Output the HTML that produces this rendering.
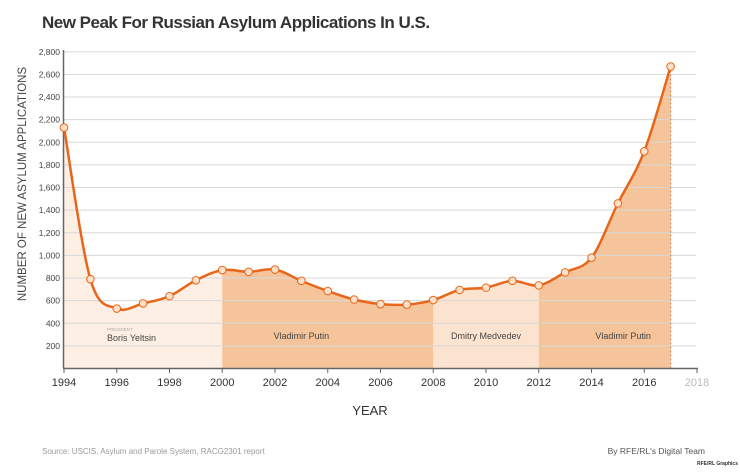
<!DOCTYPE html><html><head><style>body{margin:0;background:#fff;font-family:"Liberation Sans",sans-serif}</style></head><body>
<svg id="s" width="740" height="467" xmlns="http://www.w3.org/2000/svg" font-family="Liberation Sans, sans-serif">
<text x="42" y="28" font-size="17" font-weight="bold" fill="#333" letter-spacing="-0.5">New Peak For Russian Asylum Applications In U.S.</text>
<g id="g"></g>
<text x="26" y="184" font-size="11.5" fill="#444" transform="rotate(-90 26 184)" text-anchor="middle">NUMBER OF NEW ASYLUM APPLICATIONS</text>
<text x="370" y="415" font-size="13" fill="#333" text-anchor="middle">YEAR</text>
<text x="42" y="454" font-size="8" fill="#999">Source: USCIS, Asylum and Parole System, RACG2301 report</text>
<text x="705" y="454" font-size="8.5" fill="#555" text-anchor="end">By RFE/RL's Digital Team</text>
<text x="738" y="465" font-size="5" fill="#333" text-anchor="end" font-weight="bold">RFE/RL Graphics</text>
</svg>
<script>
var X=y=>64+(y-1994)*26.375, Y=v=>368.5-v*0.1131;
var d=[2130,790,530,575,640,780,870,855,875,775,685,610,570,565,605,695,715,775,735,850,980,1460,1920,2670];
var P=d.map((v,i)=>[X(1994+i),Y(v)]);
function curve(){var s="M"+P[0];for(var i=0;i<P.length-1;i++){var p0=P[i-1]||P[i],p1=P[i],p2=P[i+1],p3=P[i+2]||p2,t=6;
s+=" C"+(p1[0]+(p2[0]-p0[0])/t)+","+(p1[1]+(p2[1]-p0[1])/t)+" "+(p2[0]-(p3[0]-p1[0])/t)+","+(p2[1]-(p3[1]-p1[1])/t)+" "+p2;}return s;}
var c=curve(),h="";
h+='<defs><clipPath id="cp"><path d="'+c+' L'+X(2017)+',368 L64,368Z"/></clipPath></defs>';
h+='<g clip-path="url(#cp)"><rect x="64" y="0" width="'+(X(2000)-64)+'" height="368" fill="#fdefe3"/><rect x="'+X(2000)+'" y="0" width="'+(X(2008)-X(2000))+'" height="368" fill="#f5c49b"/><rect x="'+X(2008)+'" y="0" width="'+(X(2012)-X(2008))+'" height="368" fill="#fce3cf"/><rect x="'+X(2012)+'" y="0" width="'+(X(2017)-X(2012))+'" height="368" fill="#f5c49b"/></g>';
for(var v=200;v<=2800;v+=200){h+='<line x1="64" x2="696" y1="'+Y(v)+'" y2="'+Y(v)+'" stroke="#d8d8d8" stroke-width="1"/><text x="60" y="'+(Y(v)+3)+'" font-size="8.5" fill="#444" text-anchor="end">'+v.toLocaleString("en-US")+'</text>';}
h+='<line x1="'+X(2017)+'" x2="'+X(2017)+'" y1="'+Y(2670)+'" y2="368" stroke="#c87a4a" stroke-dasharray="2,2"/>';
h+='<line x1="63" x2="698" y1="368.5" y2="368.5" stroke="#666" stroke-width="1.5"/><line x1="63.5" x2="63.5" y1="50" y2="368" stroke="#666" stroke-width="1.5"/>';
for(var yr=1994;yr<=2018;yr+=2){h+='<line x1="'+X(yr)+'" x2="'+X(yr)+'" y1="368" y2="373" stroke="#666"/><text x="'+X(yr)+'" y="386" font-size="11" fill="'+(yr==2018?'#bbb':'#333')+'" text-anchor="middle">'+yr+'</text>';}
h+='<path d="'+c+'" fill="none" stroke="#e8661a" stroke-width="2.5"/>';
P.forEach(p=>h+='<circle cx="'+p[0]+'" cy="'+p[1]+'" r="3.8" fill="#fde0c8" stroke="#e8661a" stroke-width="1"/>');
h+='<text x="107" y="331" font-size="4.5" fill="#aaa">PRESIDENT</text><text x="107" y="341" font-size="9" fill="#444">Boris Yeltsin</text>';
h+='<text x="'+X(2003)+'" y="339" font-size="9" fill="#444" text-anchor="middle">Vladimir Putin</text>';
h+='<text x="'+X(2010)+'" y="339" font-size="9" fill="#444" text-anchor="middle">Dmitry Medvedev</text>';
h+='<text x="'+X(2015.2)+'" y="339" font-size="9" fill="#444" text-anchor="middle">Vladimir Putin</text>';
document.getElementById("g").innerHTML=h;
</script></body></html>
